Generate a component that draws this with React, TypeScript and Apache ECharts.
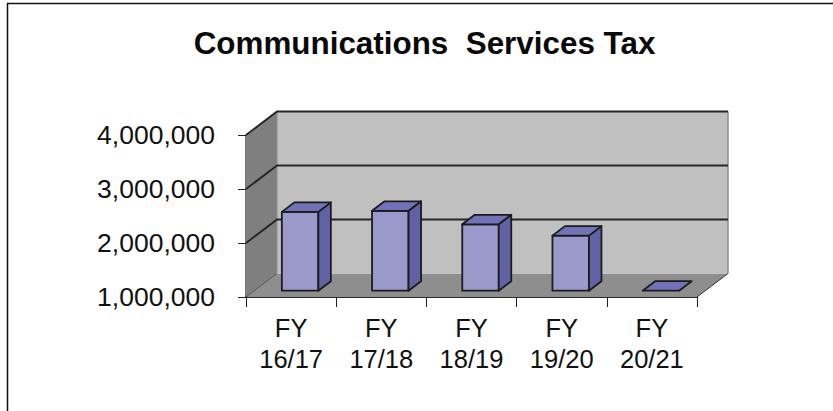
import React, { useEffect, useRef } from "react";
import * as echarts from "echarts";

const titleText = "Communications  Services Tax";
const categories = ["FY\n16/17", "FY\n17/18", "FY\n18/19", "FY\n19/20", "FY\n20/21"];
const taxValues = [2460000, 2480000, 2230000, 2020000, 1000000];
const yMin = 1000000;
const yMax = 4000000;
const yStep = 1000000;
const yTicks = [1000000, 2000000, 3000000, 4000000];

const DEPTH_X = 31;
const DEPTH_Y = 23.5;
const BAR_DX = 8.5;
const BAR_DY = 6.3;
const BAR_W = 36.5;
const TOP_DX = 12.5;
const TOP_DY = 9.5;
const EDGE = "#1c1c1c";

function poly(points: number[][], fill: string, stroke?: string, lineWidth = 1.8) {
  return {
    type: "polygon",
    shape: { points },
    style: { fill, stroke: stroke || "none", lineWidth, lineJoin: "round" },
  };
}

export default function App() {
  const ref = useRef<HTMLDivElement>(null);
  useEffect(() => {
    const chart = echarts.init(ref.current!, undefined, { renderer: "svg" });
    chart.setOption({
      animation: false,
      backgroundColor: "#ffffff",
      textStyle: { fontFamily: "Liberation Sans" },
      title: {
        text: titleText,
        left: 419.5,
        top: 23,
        textAlign: "center",
        textStyle: { fontSize: 31.4, fontWeight: "bold", color: "#0a0a0a", fontFamily: "Liberation Sans" },
      },
      graphic: [
        {
          type: "polyline",
          silent: true,
          shape: { points: [[7.5, 411], [7.5, 3.5], [833, 3.5]] },
          style: { fill: "none", stroke: "#111111", lineWidth: 1.5 },
        },
      ],
      grid: { left: 246, top: 135, width: 451, height: 162 },
      xAxis: {
        type: "category",
        data: categories,
        axisLine: { show: true, lineStyle: { color: "#2a2a2a", width: 2 } },
        axisTick: { show: true, alignWithLabel: false, length: 10, lineStyle: { color: "#222222", width: 1 } },
        axisLabel: { color: "#111111", fontSize: 25.5, lineHeight: 31.5, margin: 15, interval: 0, fontFamily: "Liberation Sans" },
        splitLine: { show: false },
      },
      yAxis: {
        type: "value",
        min: yMin,
        max: yMax,
        interval: yStep,
        axisLine: { show: true, lineStyle: { color: "#444444", width: 1.5 } },
        axisTick: { show: true, length: 8, lineStyle: { color: "#222222", width: 1 } },
        axisLabel: {
          color: "#111111",
          fontSize: 26.5,
          margin: 31,
          fontFamily: "Liberation Sans",
          formatter: (v: number) => v.toLocaleString("en-US"),
        },
        splitLine: { show: false },
      },
      series: [
        {
          type: "custom",
          coordinateSystem: "cartesian2d",
          z: 1,
          silent: true,
          clip: false,
          data: [[0, yMin]],
          renderItem: (_p: any, api: any) => {
            const bandW = api.size([1, 0])[0];
            const [lx, by] = api.coord([0, yMin]);
            const left = lx - bandW / 2;
            const right = left + bandW * categories.length;
            const top = api.coord([0, yMax])[1];
            const children: any[] = [
              poly([[left, top], [left + DEPTH_X, top - DEPTH_Y], [left + DEPTH_X, by - DEPTH_Y], [left, by]], "#7f7f7f"),
              poly([[left, by], [left + DEPTH_X, by - DEPTH_Y], [right + DEPTH_X, by - DEPTH_Y], [right, by]], "#8e8e8e"),
              poly(
                [[left + DEPTH_X, top - DEPTH_Y], [right + DEPTH_X, top - DEPTH_Y], [right + DEPTH_X, by - DEPTH_Y], [left + DEPTH_X, by - DEPTH_Y]],
                "#c0c0c0",
              ),
              {
                type: "line",
                shape: { x1: right + DEPTH_X, y1: top - DEPTH_Y, x2: right + DEPTH_X, y2: by - DEPTH_Y },
                style: { stroke: "#8c8c8c", lineWidth: 1.5 },
              },
              {
                type: "line",
                shape: { x1: left + DEPTH_X, y1: top - DEPTH_Y, x2: left + DEPTH_X, y2: by - DEPTH_Y },
                style: { stroke: "#8c8c8c", lineWidth: 1 },
              },
              {
                type: "line",
                shape: { x1: right, y1: by, x2: right + DEPTH_X, y2: by - DEPTH_Y },
                style: { stroke: "#333333", lineWidth: 1 },
              },
            ];
            yTicks.forEach((t) => {
              const y = api.coord([0, t])[1];
              children.push({
                type: "polyline",
                shape: {
                  points:
                    t === yMin
                      ? [[left, y], [left + DEPTH_X, y - DEPTH_Y]]
                      : [[left, y], [left + DEPTH_X, y - DEPTH_Y], [right + DEPTH_X, y - DEPTH_Y]],
                },
                style: { fill: "none", stroke: "#262626", lineWidth: t === yMin ? 0.6 : 1.9 },
              });
            });
            return { type: "group", children };
          },
        },
        {
          type: "custom",
          coordinateSystem: "cartesian2d",
          z: 2,
          silent: true,
          clip: false,
          data: categories.map((_c, i) => [i, taxValues[i]]),
          renderItem: (_p: any, api: any) => {
            const i = api.value(0);
            const [cx, topY] = api.coord([i, api.value(1)]);
            const baseY = api.coord([i, yMin])[1];
            const x0 = cx + BAR_DX - BAR_W / 2 + 0.5;
            const x1 = x0 + BAR_W;
            const yT = topY - BAR_DY;
            const yB = baseY - BAR_DY;
            if (baseY - topY < 1) {
              return poly([[x0 + 0, yB], [x0 + TOP_DX, yB - TOP_DY], [x1 + TOP_DX, yB - TOP_DY], [x1, yB]], "#7272b8", EDGE);
            }
            return {
              type: "group",
              children: [
                poly([[x0, yT], [x1, yT], [x1, yB], [x0, yB]], "#9999cc", EDGE),
                poly([[x1, yT], [x1 + TOP_DX, yT - TOP_DY], [x1 + TOP_DX, yB - TOP_DY], [x1, yB]], "#6161a5", EDGE),
                poly([[x0, yT], [x0 + TOP_DX, yT - TOP_DY], [x1 + TOP_DX, yT - TOP_DY], [x1, yT]], "#7272b8", EDGE),
              ],
            };
          },
        },
      ],
    });
    return () => chart.dispose();
  }, []);
  return <div ref={ref} style={{ position: "fixed", left: 0, top: 0, width: 833, height: 411 }} />;
}
